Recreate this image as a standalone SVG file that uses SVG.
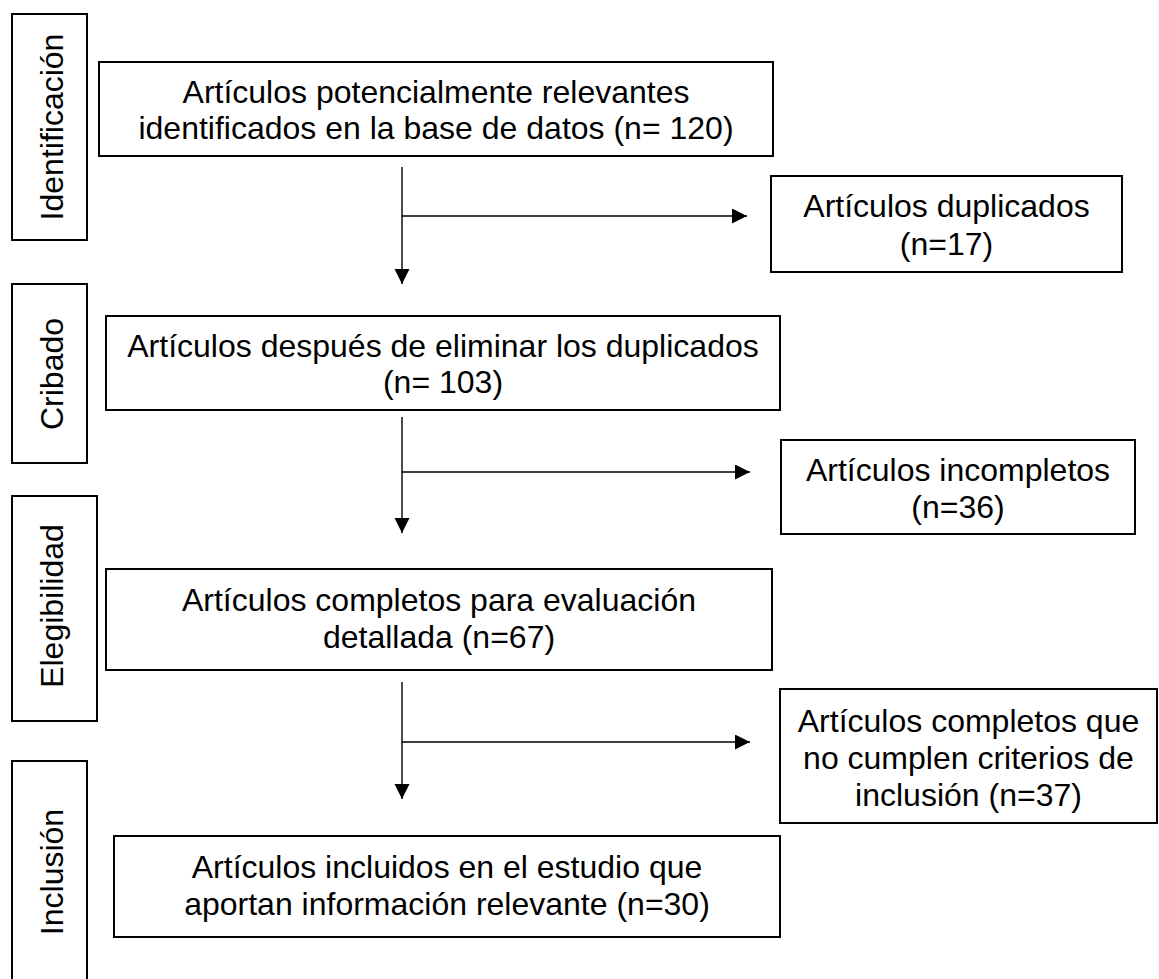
<svg xmlns="http://www.w3.org/2000/svg" width="1159" height="979" viewBox="0 0 1159 979">
<style>
.box{fill:#fff;stroke:#000;stroke-width:2}
.t{font-family:"Liberation Sans",Arial,sans-serif;font-size:32px;fill:#000;text-anchor:middle}
.c{fill:none;stroke:#000;stroke-width:1.4}
</style>
<defs>
<marker id="ah" markerUnits="userSpaceOnUse" markerWidth="16" markerHeight="16" viewBox="0 0 16 16" refX="15" refY="7.5" orient="auto">
<path d="M0,0 L15,7.5 L0,15 Z" fill="#000"/>
</marker>
</defs>
<rect width="1159" height="979" fill="#fff"/>
<g id="stage-identificacion"><rect class="box" x="12" y="14" width="75" height="226"/><text class="t" transform="translate(63,127) rotate(-90)">Identificación</text></g>
<g id="stage-cribado"><rect class="box" x="12" y="284" width="75" height="179"/><text class="t" transform="translate(63,374) rotate(-90)">Cribado</text></g>
<g id="stage-elegibilidad"><rect class="box" x="12" y="496" width="85" height="225"/><text class="t" transform="translate(63,606) rotate(-90)">Elegibilidad</text></g>
<g id="stage-inclusion"><rect class="box" x="12" y="761" width="75" height="230"/><text class="t" transform="translate(63,872) rotate(-90)">Inclusión</text></g>
<g id="n1"><rect class="box" x="99" y="62" width="674" height="94"/><text class="t" x="436" y="103">Artículos potencialmente relevantes</text><text class="t" x="436" y="139">identificados en la base de datos (n= 120)</text></g>
<g id="n1x"><rect class="box" x="771" y="176" width="351" height="96"/><text class="t" x="946.5" y="217">Artículos duplicados</text><text class="t" x="946.5" y="255">(n=17)</text></g>
<g id="n2"><rect class="box" x="106" y="316" width="674" height="94"/><text class="t" x="443" y="357">Artículos después de eliminar los duplicados</text><text class="t" x="443" y="393">(n= 103)</text></g>
<g id="n2x"><rect class="box" x="781" y="440" width="354" height="94"/><text class="t" x="958" y="481">Artículos incompletos</text><text class="t" x="958" y="518">(n=36)</text></g>
<g id="n3"><rect class="box" x="106" y="569" width="666" height="101"/><text class="t" x="439" y="611">Artículos completos para evaluación</text><text class="t" x="439" y="648">detallada (n=67)</text></g>
<g id="n3x"><rect class="box" x="780" y="689" width="377" height="134"/><text class="t" x="968.5" y="732">Artículos completos que</text><text class="t" x="968.5" y="769">no cumplen criterios de</text><text class="t" x="968.5" y="806">inclusión (n=37)</text></g>
<g id="n4"><rect class="box" x="114" y="836" width="666" height="101"/><text class="t" x="447" y="878">Artículos incluidos en el estudio que</text><text class="t" x="447" y="915">aportan información relevante (n=30)</text></g>
<g id="connectors">
<path class="c" d="M402,167 V284" marker-end="url(#ah)"/>
<path class="c" d="M402,216 H747" marker-end="url(#ah)"/>
<path class="c" d="M402,417 V533" marker-end="url(#ah)"/>
<path class="c" d="M402,472 H750" marker-end="url(#ah)"/>
<path class="c" d="M402,682 V799" marker-end="url(#ah)"/>
<path class="c" d="M402,742 H750" marker-end="url(#ah)"/>
</g>
</svg>
